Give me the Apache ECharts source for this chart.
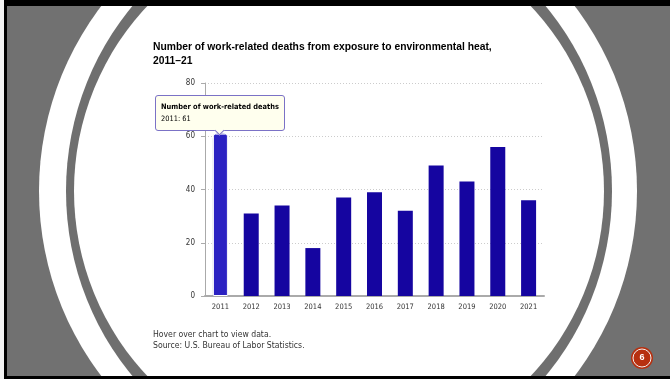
<!DOCTYPE html>
<html>
<head>
<meta charset="utf-8">
<script src="https://cdn.jsdelivr.net/npm/echarts@6/dist/echarts.min.js"></script>
<style>
html,body{margin:0;padding:0;background:#ffffff;}
#c{width:670px;height:379px;}
</style>
</head>
<body>
<div id="c"></div>
<script>
var years = ['2011','2012','2013','2014','2015','2016','2017','2018','2019','2020','2021'];
var deaths = [61, 31, 34, 18, 37, 39, 32, 49, 43, 56, 36];
var yTicks = [0, 20, 40, 60, 80];
var titleText = 'Number of work-related deaths from exposure to environmental heat,\n2011\u201321';
var noteText = 'Hover over chart to view data.\nSource: U.S. Bureau of Labor Statistics.';
var seriesName = 'Number of work-related deaths';
var slideNumber = '6';
var hoverIndex = 0;

var chart = echarts.init(document.getElementById('c'), null, {renderer: 'canvas'});

var smallFont = '"DejaVu Sans Condensed", "DejaVu Sans", sans-serif';

var mainData = deaths.map(function (v, i) {
  if (i === hoverIndex) {
    return {value: v, itemStyle: {color: '#2b22c2', borderColor: '#ffffff', borderWidth: 1, borderRadius: [2, 2, 0, 0]}};
  }
  return v;
});
var outlineData = deaths.map(function (v, i) { return i === hoverIndex ? v : '-'; });

function ell(cx, cy, a, b, fill, z) {
  return {type: 'circle', x: cx, y: cy, scaleX: 1, scaleY: b / a, shape: {cx: 0, cy: 0, r: a}, style: {fill: fill}, z: z, silent: true};
}

var option = {
  animation: false,
  backgroundColor: '#ffffff',
  title: [
    {text: titleText, left: 153, top: 40.5, padding: 0,
     textStyle: {fontFamily: '"Liberation Sans", Arial, sans-serif', fontSize: 10.3, fontWeight: 'bold', color: '#000', lineHeight: 14}},
    {text: noteText, left: 153, top: 329.5, padding: 0,
     textStyle: {fontFamily: smallFont, fontSize: 8.6, fontWeight: 'normal', color: '#333', lineHeight: 11}}
  ],
  graphic: [
    {type: 'rect', shape: {x: 0, y: 0, width: 670, height: 379}, style: {fill: '#717171'}, z: -100, silent: true},
    ell(338, 191, 299, 303, '#ffffff', -99),
    ell(339, 191, 273, 283, '#6f6f6f', -98),
    ell(339, 191, 265, 268, '#ffffff', -97),
    {type: 'rect', shape: {x: 0, y: 0, width: 670, height: 6}, style: {fill: '#000'}, z: -90, silent: true},
    {type: 'rect', shape: {x: 0, y: 376, width: 670, height: 3}, style: {fill: '#000'}, z: -90, silent: true},
    {type: 'rect', shape: {x: 4, y: 0, width: 3, height: 379}, style: {fill: '#000'}, z: -90, silent: true},
    {type: 'rect', shape: {x: 0, y: 0, width: 4, height: 379}, style: {fill: '#f4f4f4'}, z: -89, silent: true},
    {type: 'circle', shape: {cx: 642, cy: 358, r: 11}, style: {fill: '#b7300f'}, z: 10, silent: true},
    {type: 'circle', shape: {cx: 642, cy: 358, r: 9}, style: {fill: 'none', stroke: '#f2f2f2', lineWidth: 1}, z: 11, silent: true},
    {type: 'text', x: 642, y: 358, style: {text: slideNumber, fill: '#fff', font: 'bold 9px "Liberation Sans", Arial, sans-serif', align: 'center', verticalAlign: 'middle'}, z: 12, silent: true}
  ],
  grid: {left: 205, right: 126, top: 83, bottom: 83, containLabel: false},
  tooltip: {
    trigger: 'item',
    triggerOn: 'none',
    alwaysShowContent: true,
    transitionDuration: 0,
    backgroundColor: '#ffffee',
    borderColor: '#7b72c6',
    borderWidth: 1,
    padding: [5, 5],
    extraCssText: 'box-shadow:none;border-radius:3px;',
    textStyle: {fontFamily: smallFont, fontSize: 7.4, color: '#000'},
    position: function (point, params, dom, rect, size) {
      var w = size.contentSize[0], h = size.contentSize[1];
      return [rect.x + rect.width / 2 - w / 2, rect.y - h - 3];
    },
    formatter: function (p) {
      return '<div style="font-weight:bold;line-height:12px;">' + seriesName + '</div>' +
             '<div style="line-height:12px;">' + p.name + ': ' + p.value + '</div>' +
             '<div style="position:absolute;left:50%;bottom:-4px;width:6px;height:6px;margin-left:-4px;background:#ffffee;' +
             'border-right:1px solid #7b72c6;border-bottom:1px solid #7b72c6;transform:rotate(45deg);"></div>';
    }
  },
  xAxis: {
    type: 'category',
    data: years,
    axisLine: {show: true, lineStyle: {color: '#aaaaaa', width: 2}},
    axisTick: {show: false},
    axisLabel: {fontFamily: smallFont, fontSize: 7.5, color: '#333', margin: 7}
  },
  yAxis: {
    type: 'value',
    min: yTicks[0],
    max: yTicks[yTicks.length - 1],
    interval: yTicks[1] - yTicks[0],
    axisLine: {show: true, lineStyle: {color: '#aaaaaa', width: 1}},
    axisTick: {show: true, length: 4, lineStyle: {color: '#aaaaaa'}},
    axisLabel: {fontFamily: smallFont, fontSize: 8, color: '#333', margin: 10},
    splitLine: {show: true, lineStyle: {color: '#cccccc', type: [1, 2], width: 1}}
  },
  series: [
    {
      name: 'outline', type: 'bar', data: outlineData, barWidth: 15, barGap: '-100%',
      itemStyle: {color: 'rgba(0,0,0,0)', borderColor: '#5561b8', borderWidth: 4, borderRadius: [3, 3, 0, 0]},
      emphasis: {disabled: true}, silent: true, tooltip: {show: false}
    },
    {
      name: seriesName, type: 'bar', data: mainData, barWidth: 15,
      itemStyle: {color: '#1505a0'},
      emphasis: {disabled: true}
    }
  ]
};
chart.setOption(option);
chart.dispatchAction({type: 'showTip', seriesIndex: 1, dataIndex: hoverIndex});
</script>
</body>
</html>
